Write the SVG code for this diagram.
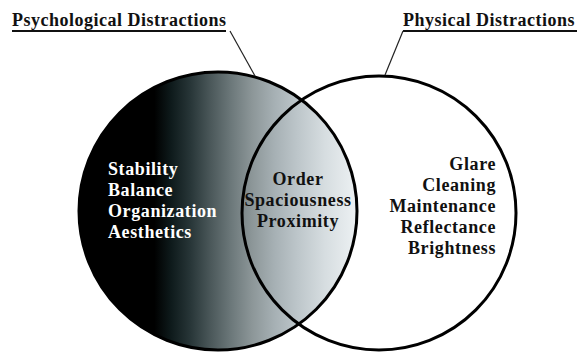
<svg xmlns="http://www.w3.org/2000/svg" width="579" height="354" viewBox="0 0 579 354">
  <defs>
    <linearGradient id="grad" gradientUnits="userSpaceOnUse" x1="79" y1="0" x2="358" y2="0">
      <stop offset="0" stop-color="#000000"/>
      <stop offset="0.27" stop-color="#000000"/>
      <stop offset="0.33" stop-color="#0e1a1b"/>
      <stop offset="0.40" stop-color="#283638"/>
      <stop offset="0.47" stop-color="#4a5759"/>
      <stop offset="0.55" stop-color="#6e7a7c"/>
      <stop offset="0.62" stop-color="#8c9698"/>
      <stop offset="0.70" stop-color="#a6b0b4"/>
      <stop offset="0.78" stop-color="#bcc5c9"/>
      <stop offset="0.88" stop-color="#d6dde0"/>
      <stop offset="1" stop-color="#eef2f4"/>
    </linearGradient>
  </defs>
  <style>
    .title { font-family: 'Liberation Serif', serif; font-weight: bold; font-size: 18px; fill: #111; letter-spacing: 0.5px; }
    .lbl { font-family: 'Liberation Serif', serif; font-weight: bold; font-size: 18px; letter-spacing: 0.6px; }
    .ring { fill: none; stroke: #000; stroke-width: 3; }
    .lead { stroke: #222; stroke-width: 1.2; fill: none; }
    .ul { stroke: #111; stroke-width: 2; }
  </style>
  <rect width="579" height="354" fill="#ffffff"/>

  <g id="psychological">
    <circle cx="218" cy="211" r="139" fill="url(#grad)"/>
    <text class="lbl" fill="#ffffff" x="108" y="175">Stability</text>
    <text class="lbl" fill="#ffffff" x="108" y="196">Balance</text>
    <text class="lbl" fill="#ffffff" x="108" y="217">Organization</text>
    <text class="lbl" fill="#ffffff" x="108" y="238">Aesthetics</text>
  </g>

  <g id="overlap">
    <text class="lbl" fill="#111" x="298" y="185" text-anchor="middle">Order</text>
    <text class="lbl" fill="#111" x="298" y="206" text-anchor="middle">Spaciousness</text>
    <text class="lbl" fill="#111" x="298" y="227" text-anchor="middle">Proximity</text>
  </g>

  <g id="physical">
    <text class="lbl" fill="#111" x="496" y="170" text-anchor="end">Glare</text>
    <text class="lbl" fill="#111" x="496" y="191" text-anchor="end">Cleaning</text>
    <text class="lbl" fill="#111" x="496" y="212" text-anchor="end">Maintenance</text>
    <text class="lbl" fill="#111" x="496" y="233" text-anchor="end">Reflectance</text>
    <text class="lbl" fill="#111" x="496" y="254" text-anchor="end">Brightness</text>
  </g>

  <g id="rings">
    <circle class="ring" cx="218" cy="211" r="139"/>
    <circle class="ring" cx="379" cy="213" r="137"/>
  </g>

  <g id="title-psychological">
    <text class="title" x="12" y="26">Psychological Distractions</text>
    <line class="ul" x1="12" y1="31" x2="226" y2="31"/>
  </g>
  <g id="title-physical">
    <text class="title" x="403" y="26">Physical Distractions</text>
    <line class="ul" x1="403" y1="31" x2="577" y2="31"/>
  </g>

  <g id="connectors">
    <line class="lead" x1="230" y1="31" x2="255" y2="76"/>
    <line class="lead" x1="403" y1="31" x2="385" y2="75"/>
  </g>
</svg>
